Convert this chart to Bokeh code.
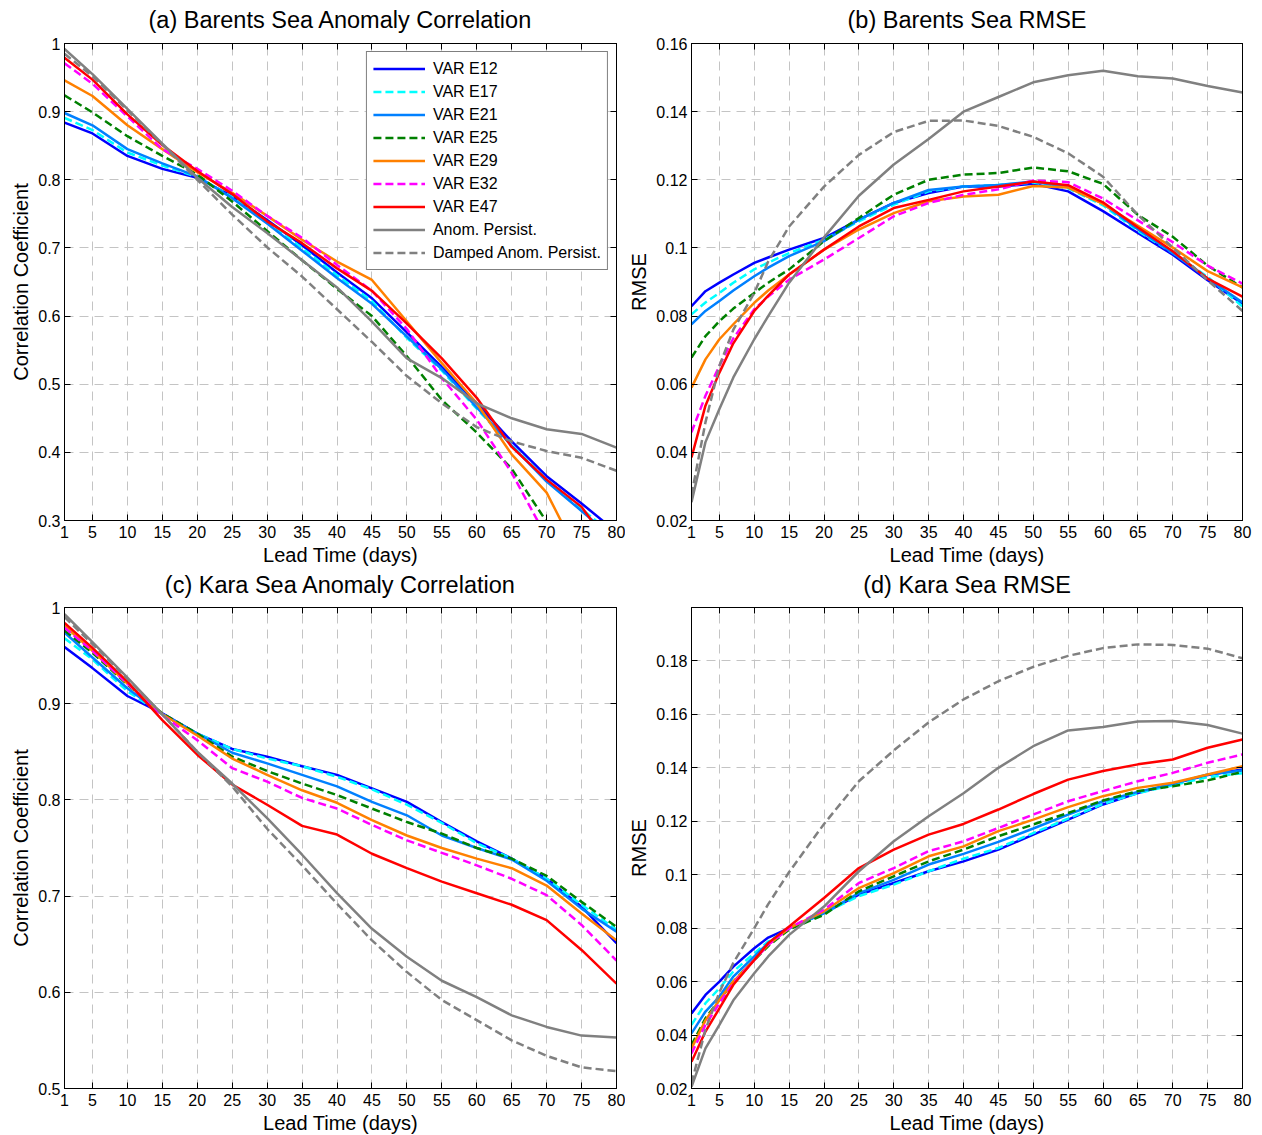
import numpy as np
from bokeh.plotting import figure
from bokeh.layouts import column, row
from bokeh.models import Range1d, FixedTicker, LinearAxis, Legend, LegendItem
from bokeh.embed import file_html
from bokeh.resources import INLINE

nan = np.nan
FONT = "Liberation Sans"

# ---------------- data ----------------
DAYS_CORR = [1, 5, 10, 15, 20, 25, 30, 35, 40, 45, 50, 55, 60, 65, 70, 75, 80]
DAYS_RMSE = [1, 3, 5, 7, 10, 12, 15, 20, 25, 30, 35, 40, 45, 50, 55, 60, 65, 70, 75, 80]
X_TICKS = [1, 5, 10, 15, 20, 25, 30, 35, 40, 45, 50, 55, 60, 65, 70, 75, 80]

SERIES_NAMES = ["VAR E12", "VAR E17", "VAR E21", "VAR E25", "VAR E29", "VAR E32",
                "VAR E47", "Anom. Persist.", "Damped Anom. Persist."]
SERIES_COLORS = ["#0000ff", "#00ffff", "#0080ff", "#008000", "#ff8000", "#ff00ff",
                 "#ff0000", "#808080", "#808080"]
SERIES_DASH = ["solid", "8 4", "solid", "8 4", "solid", "8 4", "solid", "solid", "8 4"]

# (a) Barents Sea anomaly correlation
a_e12 = [0.884, 0.868, 0.835, 0.816, 0.803, 0.776, 0.741, 0.704, 0.664, 0.626, 0.576, 0.525, 0.472, 0.416, 0.365, 0.325, 0.283]
a_e17 = [0.891, 0.873, 0.840, 0.821, 0.804, 0.775, 0.738, 0.700, 0.660, 0.622, 0.568, 0.520, 0.464, 0.410, 0.360, 0.317, 0.275]
a_e21 = [0.898, 0.880, 0.845, 0.824, 0.805, 0.773, 0.736, 0.696, 0.656, 0.618, 0.570, 0.522, 0.466, 0.410, 0.357, 0.314, 0.270]
a_e25 = [0.924, 0.899, 0.864, 0.835, 0.808, 0.768, 0.725, 0.682, 0.640, 0.600, 0.541, 0.477, 0.429, 0.376, 0.298, nan, nan]
a_e29 = [0.946, 0.923, 0.880, 0.845, 0.811, 0.781, 0.747, 0.712, 0.680, 0.653, 0.592, 0.531, 0.472, 0.397, 0.341, 0.240, nan]
a_e32 = [0.971, 0.941, 0.893, 0.845, 0.816, 0.784, 0.747, 0.715, 0.675, 0.637, 0.581, 0.509, 0.448, 0.370, 0.275, nan, nan]
a_e47 = [0.979, 0.947, 0.896, 0.851, 0.813, 0.779, 0.739, 0.707, 0.670, 0.637, 0.589, 0.538, 0.480, 0.408, 0.360, 0.320, 0.250]
a_ap = [0.992, 0.955, 0.904, 0.853, 0.803, 0.760, 0.722, 0.682, 0.642, 0.592, 0.538, 0.509, 0.472, 0.450, 0.434, 0.427, 0.407]
a_dap = [0.985, 0.952, 0.902, 0.852, 0.800, 0.749, 0.701, 0.658, 0.610, 0.562, 0.512, 0.472, 0.437, 0.416, 0.402, 0.392, 0.373]

# (b) Barents Sea RMSE
b_e12 = [0.0829, 0.0873, 0.0898, 0.0922, 0.0956, 0.0972, 0.0995, 0.1029, 0.1083, 0.1132, 0.1161, 0.1180, 0.1180, 0.1188, 0.1166, 0.1108, 0.1044, 0.0980, 0.0905, 0.0836]
b_e17 = [0.0805, 0.0840, 0.0868, 0.0898, 0.0937, 0.0957, 0.0985, 0.1024, 0.1078, 0.1127, 0.1166, 0.1180, 0.1185, 0.1192, 0.1175, 0.1125, 0.1050, 0.0985, 0.0915, 0.0828]
b_e21 = [0.0776, 0.0815, 0.0844, 0.0875, 0.0917, 0.0942, 0.0976, 0.1020, 0.1083, 0.1132, 0.1170, 0.1180, 0.1185, 0.1195, 0.1178, 0.1130, 0.1055, 0.0985, 0.0910, 0.0840]
b_e25 = [0.0678, 0.0741, 0.0785, 0.0822, 0.0868, 0.0898, 0.0937, 0.1020, 0.1088, 0.1156, 0.1200, 0.1215, 0.1220, 0.1236, 0.1225, 0.1188, 0.1097, 0.1033, 0.0948, 0.0884]
b_e29 = [0.0590, 0.0673, 0.0732, 0.0776, 0.0839, 0.0875, 0.0922, 0.0995, 0.1054, 0.1102, 0.1137, 0.1151, 0.1156, 0.1182, 0.1177, 0.1129, 0.1065, 0.1001, 0.0932, 0.0884]
b_e32 = [0.0459, 0.0566, 0.0654, 0.0735, 0.0820, 0.0857, 0.0907, 0.0966, 0.1029, 0.1093, 0.1132, 0.1156, 0.1172, 0.1198, 0.1193, 0.1145, 0.1081, 0.1017, 0.0948, 0.0895]
b_e47 = [0.0385, 0.0537, 0.0634, 0.0720, 0.0815, 0.0860, 0.0922, 0.0995, 0.1063, 0.1117, 0.1141, 0.1166, 0.1180, 0.1195, 0.1184, 0.1134, 0.1060, 0.0990, 0.0910, 0.0857]
b_ap = [0.0254, 0.0430, 0.0527, 0.0620, 0.0732, 0.0800, 0.0898, 0.1031, 0.1153, 0.1245, 0.1320, 0.1400, 0.1443, 0.1486, 0.1507, 0.1520, 0.1504, 0.1497, 0.1475, 0.1456]
b_dap = [0.0275, 0.0488, 0.0654, 0.0760, 0.0868, 0.0960, 0.1063, 0.1180, 0.1273, 0.1340, 0.1373, 0.1374, 0.1358, 0.1326, 0.1278, 0.1209, 0.1097, 0.1001, 0.0905, 0.0815]

# (c) Kara Sea anomaly correlation
c_e12 = [0.959, 0.937, 0.908, 0.890, 0.869, 0.853, 0.845, 0.835, 0.826, 0.812, 0.798, 0.777, 0.757, 0.739, 0.718, 0.689, 0.651]
c_e17 = [0.968, 0.946, 0.913, 0.889, 0.869, 0.853, 0.843, 0.835, 0.824, 0.811, 0.795, 0.776, 0.755, 0.739, 0.718, 0.691, 0.665]
c_e21 = [0.974, 0.948, 0.916, 0.889, 0.869, 0.849, 0.838, 0.826, 0.814, 0.798, 0.784, 0.763, 0.750, 0.738, 0.716, 0.687, 0.663]
c_e25 = [0.976, 0.953, 0.920, 0.890, 0.869, 0.845, 0.830, 0.817, 0.805, 0.791, 0.777, 0.765, 0.750, 0.739, 0.721, 0.694, 0.668]
c_e29 = [0.981, 0.955, 0.921, 0.889, 0.867, 0.843, 0.826, 0.810, 0.797, 0.779, 0.763, 0.750, 0.739, 0.729, 0.711, 0.682, 0.654]
c_e32 = [0.979, 0.955, 0.921, 0.888, 0.862, 0.833, 0.819, 0.802, 0.791, 0.774, 0.758, 0.745, 0.732, 0.718, 0.701, 0.670, 0.633]
c_e47 = [0.984, 0.958, 0.923, 0.883, 0.847, 0.816, 0.795, 0.773, 0.764, 0.744, 0.729, 0.715, 0.703, 0.691, 0.675, 0.644, 0.609]
c_ap = [0.993, 0.964, 0.927, 0.889, 0.850, 0.817, 0.781, 0.743, 0.703, 0.666, 0.637, 0.612, 0.595, 0.576, 0.564, 0.555, 0.553]
c_dap = [0.990, 0.962, 0.926, 0.889, 0.850, 0.814, 0.770, 0.732, 0.692, 0.654, 0.621, 0.592, 0.571, 0.550, 0.534, 0.522, 0.518]

# (d) Kara Sea RMSE
d_e12 = [0.0481, 0.0550, 0.0600, 0.0656, 0.0725, 0.0765, 0.0800, 0.0856, 0.0925, 0.0969, 0.1013, 0.1050, 0.1094, 0.1150, 0.1206, 0.1263, 0.1306, 0.1340, 0.1373, 0.1394]
d_e17 = [0.0438, 0.0519, 0.0575, 0.0638, 0.0706, 0.0750, 0.0798, 0.0856, 0.0920, 0.0963, 0.1013, 0.1060, 0.1100, 0.1156, 0.1210, 0.1265, 0.1305, 0.1335, 0.1365, 0.1380]
d_e21 = [0.0406, 0.0488, 0.0544, 0.0619, 0.0694, 0.0745, 0.0798, 0.0856, 0.0931, 0.0981, 0.1038, 0.1078, 0.1123, 0.1173, 0.1225, 0.1275, 0.1310, 0.1340, 0.1375, 0.1390]
d_e25 = [0.0363, 0.0463, 0.0531, 0.0600, 0.0681, 0.0733, 0.0795, 0.0850, 0.0938, 0.0994, 0.1050, 0.1094, 0.1144, 0.1188, 0.1231, 0.1278, 0.1313, 0.1331, 0.1353, 0.1385]
d_e29 = [0.0350, 0.0455, 0.0531, 0.0600, 0.0681, 0.0738, 0.0800, 0.0863, 0.0950, 0.1006, 0.1069, 0.1106, 0.1163, 0.1206, 0.1253, 0.1294, 0.1325, 0.1344, 0.1375, 0.1406]
d_e32 = [0.0331, 0.0438, 0.0519, 0.0594, 0.0681, 0.0738, 0.0800, 0.0869, 0.0969, 0.1025, 0.1088, 0.1125, 0.1175, 0.1225, 0.1275, 0.1313, 0.1350, 0.1381, 0.1419, 0.1450]
d_e47 = [0.0300, 0.0413, 0.0500, 0.0588, 0.0681, 0.0744, 0.0806, 0.0913, 0.1025, 0.1094, 0.1150, 0.1190, 0.1244, 0.1302, 0.1356, 0.1388, 0.1413, 0.1431, 0.1475, 0.1506]
d_ap = [0.0206, 0.0350, 0.0438, 0.0530, 0.0631, 0.0694, 0.0775, 0.0881, 0.1013, 0.1125, 0.1219, 0.1305, 0.1400, 0.1481, 0.1540, 0.1553, 0.1573, 0.1575, 0.1560, 0.1528]
d_dap = [0.0220, 0.0420, 0.0560, 0.0670, 0.0800, 0.0890, 0.1010, 0.1190, 0.1350, 0.1465, 0.1570, 0.1656, 0.1724, 0.1778, 0.1819, 0.1848, 0.1862, 0.1860, 0.1846, 0.1810]

CORR_A_TICKS = [0.3, 0.4, 0.5, 0.6, 0.7, 0.8, 0.9, 1.0]
CORR_A_LABELS = ["0.3", "0.4", "0.5", "0.6", "0.7", "0.8", "0.9", "1"]
CORR_C_TICKS = [0.5, 0.6, 0.7, 0.8, 0.9, 1.0]
CORR_C_LABELS = ["0.5", "0.6", "0.7", "0.8", "0.9", "1"]
RMSE_B_TICKS = [0.02, 0.04, 0.06, 0.08, 0.1, 0.12, 0.14, 0.16]
RMSE_B_LABELS = ["0.02", "0.04", "0.06", "0.08", "0.1", "0.12", "0.14", "0.16"]
RMSE_D_TICKS = [0.02, 0.04, 0.06, 0.08, 0.1, 0.12, 0.14, 0.16, 0.18]
RMSE_D_LABELS = ["0.02", "0.04", "0.06", "0.08", "0.1", "0.12", "0.14", "0.16", "0.18"]
X_LABELS = [str(t) for t in X_TICKS]


def style_axis(ax, ticks, labels, show_labels=True, label_standoff=4):
    ax.ticker = FixedTicker(ticks=ticks)
    ax.major_tick_in = 6
    ax.major_tick_out = 0
    ax.minor_tick_line_color = None
    ax.axis_line_color = "black"
    ax.major_tick_line_color = "black"
    ax.axis_label_text_font = FONT
    ax.axis_label_text_font_style = "normal"
    ax.axis_label_text_color = "black"
    if show_labels:
        ax.major_label_overrides = {t: l for t, l in zip(ticks, labels)}
        ax.major_label_text_font = FONT
        ax.major_label_text_color = "black"
        ax.major_label_standoff = label_standoff
        ax.major_label_text_font_size = "16px"
        ax.axis_label_text_font_size = "20px"
        ax.axis_label_standoff = 3
    else:
        ax.major_label_text_font_size = "0px"
        ax.major_label_text_color = None
        ax.major_label_standoff = 0


def make_panel(title, ylabel, days, series, y0, y1, yticks, ylabels,
               fw, fh, bl, br, bt, bb, title_gap, legend=False):
    p = figure(frame_width=fw, frame_height=fh,
               min_border_left=bl, min_border_right=br,
               min_border_top=bt, min_border_bottom=bb,
               x_range=Range1d(1, 80), y_range=Range1d(y0, y1),
               output_backend="svg", toolbar_location=None)
    p.outline_line_color = "black"
    p.background_fill_color = "white"
    p.border_fill_color = "white"

    style_axis(p.xaxis[0], X_TICKS, X_LABELS, label_standoff=5)
    p.xaxis[0].axis_label = "Lead Time (days)"
    style_axis(p.yaxis[0], yticks, ylabels)
    p.yaxis[0].axis_label = ylabel

    # top axis: inward ticks, and the panel title as its label (centred over the frame)
    top = LinearAxis()
    style_axis(top, X_TICKS, X_LABELS, show_labels=False)
    top.axis_label = title
    top.axis_label_text_font_size = "23.5px"
    top.axis_label_standoff = title_gap
    p.add_layout(top, "above")
    right = LinearAxis()
    style_axis(right, yticks, ylabels, show_labels=False)
    p.add_layout(right, "right")

    for g in (p.xgrid[0], p.ygrid[0]):
        g.grid_line_color = "#c4c4c4"
        g.grid_line_dash = "9 6"
        g.grid_line_width = 1
    p.xgrid[0].ticker = FixedTicker(ticks=X_TICKS)
    p.ygrid[0].ticker = FixedTicker(ticks=yticks)

    items = []
    for name, color, dash, vals in zip(SERIES_NAMES, SERIES_COLORS, SERIES_DASH, series):
        r = p.line(days, np.array(vals, dtype=float), line_color=color,
                   line_width=2.5, line_dash=dash)
        items.append(LegendItem(label=name, renderers=[r]))

    if legend:
        lg = Legend(items=items, location="top_right")
        lg.label_text_font = FONT
        lg.label_text_font_size = "16px"
        lg.label_text_color = "black"
        lg.glyph_width = 52
        lg.glyph_height = 21
        lg.label_height = 21
        lg.label_standoff = 8
        lg.spacing = 2
        lg.padding = 6
        lg.margin = 8
        lg.border_line_color = "black"
        lg.border_line_width = 1
        lg.background_fill_color = "white"
        lg.background_fill_alpha = 1.0
        p.add_layout(lg)
    return p


pa = make_panel("(a) Barents Sea Anomaly Correlation", "Correlation Coefficient", DAYS_CORR,
                [a_e12, a_e17, a_e21, a_e25, a_e29, a_e32, a_e47, a_ap, a_dap],
                0.3, 1.0, CORR_A_TICKS, CORR_A_LABELS,
                552, 477, 64, 9, 43, 47, 11, legend=True)
pb = make_panel("(b) Barents Sea RMSE", "RMSE", DAYS_RMSE,
                [b_e12, b_e17, b_e21, b_e25, b_e29, b_e32, b_e47, b_ap, b_dap],
                0.02, 0.16, RMSE_B_TICKS, RMSE_B_LABELS,
                551, 477, 66, 20, 43, 47, 11)
pc = make_panel("(c) Kara Sea Anomaly Correlation", "Correlation Coefficient", DAYS_CORR,
                [c_e12, c_e17, c_e21, c_e25, c_e29, c_e32, c_e47, c_ap, c_dap],
                0.5, 1.0, CORR_C_TICKS, CORR_C_LABELS,
                552, 481, 64, 9, 39, 48, 10)
pd_ = make_panel("(d) Kara Sea RMSE", "RMSE", DAYS_RMSE,
                 [d_e12, d_e17, d_e21, d_e25, d_e29, d_e32, d_e47, d_ap, d_dap],
                 0.02, 0.2, RMSE_D_TICKS, RMSE_D_LABELS,
                 551, 481, 66, 20, 39, 48, 10)

layout = column(row(pa, pb, spacing=0), row(pc, pd_, spacing=0), spacing=0)
open("out.html", "w").write(file_html(layout, INLINE))
